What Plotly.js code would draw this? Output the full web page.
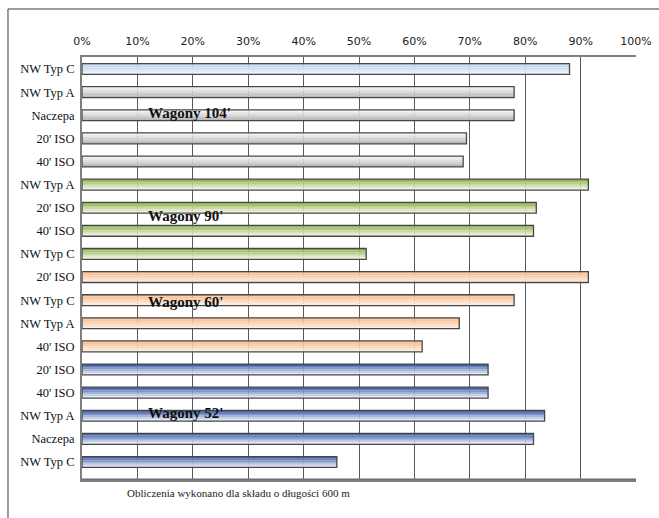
<!DOCTYPE html>
<html>
<head>
<meta charset="utf-8">
<script src="https://cdn.plot.ly/plotly-3.0.1.min.js"></script>
<style>html,body{margin:0;padding:0;background:#fff}#chart{width:659px;height:518px}</style>
</head>
<body>
<div id="chart"></div>
<script>
// ---- data ----
const categories = ["NW Typ C","NW Typ A","Naczepa","20' ISO","40' ISO",
                    "NW Typ A","20' ISO","40' ISO","NW Typ C",
                    "20' ISO","NW Typ C","NW Typ A","40' ISO",
                    "20' ISO","40' ISO","NW Typ A","Naczepa","NW Typ C"];
const values = [88.0,78.0,78.0,69.4,68.8,
                91.4,82.0,81.5,51.3,
                91.4,78.0,68.1,61.4,
                73.3,73.3,83.5,81.5,46.0];
const groupOfBar = ["104c","104","104","104","104",
                    "90","90","90","90",
                    "60","60","60","60",
                    "52","52","52","52","52"];
const groupLabels = ["Wagony 104'","Wagony 90'","Wagony 60'","Wagony 52'"];
const xTickVals = [0,10,20,30,40,50,60,70,80,90,100];
const xTickText = ["0%","10%","20%","30%","40%","50%","60%","70%","80%","90%","100%"];
const footnote = "Obliczenia wykonano dla składu o długości 600 m";

// ---- styles ----
const gradients = {
  "104c": ["#bcd2ee","#eef4fb"],
  "104":  ["#f4f4f4","#b8b8b8"],
  "90":   ["#93b452","#eef3e2"],
  "60":   ["#f8b888","#fdeee2"],
  "52":   ["#4563a8","#e2e8f5"]
};
function hex2rgb(h){return [1,3,5].map(i=>parseInt(h.substr(i,2),16));}
function mix(a,b,t){const A=hex2rgb(a),B=hex2rgb(b);return 'rgb('+A.map((v,i)=>Math.round(v+(B[i]-v)*t)).join(',')+')';}

const idx = categories.map((c,i)=>i);
const W = 0.47, NB = 6;
const traces = [];
for(let k=0;k<NB;k++){
  const t = k/(NB-1);
  traces.push({
    type:'bar', orientation:'h', x: values, y: idx,
    width: W/NB + 0.002, offset: -W/2 + k*W/NB,
    marker:{color: groupOfBar.map(g=>mix(gradients[g][0],gradients[g][1],t)), line:{width:0}},
    hoverinfo:'skip', showlegend:false, textposition:'none'
  });
}
traces.push({
  type:'bar', orientation:'h', x: values, y: idx,
  width: W, offset: -W/2,
  marker:{color:'rgba(0,0,0,0)', line:{color:'#474747', width:1.3}},
  customdata: categories, textposition:'none',
  hovertemplate:'%{customdata}: %{x}%<extra></extra>', showlegend:false
});

const groupY = [1.9, 6.36, 10.1, 14.9];
const annotations = groupLabels.map((g,i)=>({
  text:'<b>'+g+'</b>', x:11.5, y:groupY[i], xref:'x', yref:'y',
  xanchor:'left', yanchor:'middle', showarrow:false,
  font:{family:'Liberation Serif, Times New Roman, serif', size:15, color:'#111'}
}));
annotations.push({
  text: footnote, xref:'paper', yref:'paper', x:0.282, y:-0.012,
  xanchor:'center', yanchor:'top', showarrow:false,
  font:{family:'Liberation Serif, Times New Roman, serif', size:11, color:'#222'}
});

const layout = {
  width:659, height:518,
  margin:{l:82, r:23, t:57, b:38},
  paper_bgcolor:'#fff', plot_bgcolor:'#fff',
  barmode:'overlay',
  xaxis:{
    side:'top', range:[0,100], tickvals:xTickVals, ticktext:xTickText,
    showgrid:true, gridcolor:'#5a5a5a', gridwidth:1,
    showline:true, linecolor:'#7f7f7f', linewidth:2, mirror:'all',
    ticks:'', ticklabelstandoff:6, zeroline:false,
    tickfont:{family:'DejaVu Sans, Verdana, sans-serif', size:11, color:'#222'}
  },
  yaxis:{
    range:[17.78,-0.52], tickvals:idx, ticktext:categories,
    showgrid:false, zeroline:false,
    showline:true, linecolor:'#7f7f7f', linewidth:2,
    ticks:'', ticklabelstandoff:3,
    tickfont:{family:'Liberation Serif, Times New Roman, serif', size:12.5, color:'#111'}
  },
  annotations: annotations,
  shapes:[
    {type:'rect', xref:'paper', yref:'paper', x0:-0.1336, x1:1.3, y0:-0.3, y1:1.1135,
     line:{color:'#3a3a3a', width:1}, fillcolor:'rgba(0,0,0,0)', layer:'below'},
    {type:'line', xref:'x', yref:'y', x0:0, x1:100, y0:17.76, y1:17.76,
     line:{color:'#6f6f6f', width:2}, layer:'above'}
  ]
};
Plotly.newPlot('chart', traces, layout, {displayModeBar:false, staticPlot:true});
</script>
</body>
</html>
